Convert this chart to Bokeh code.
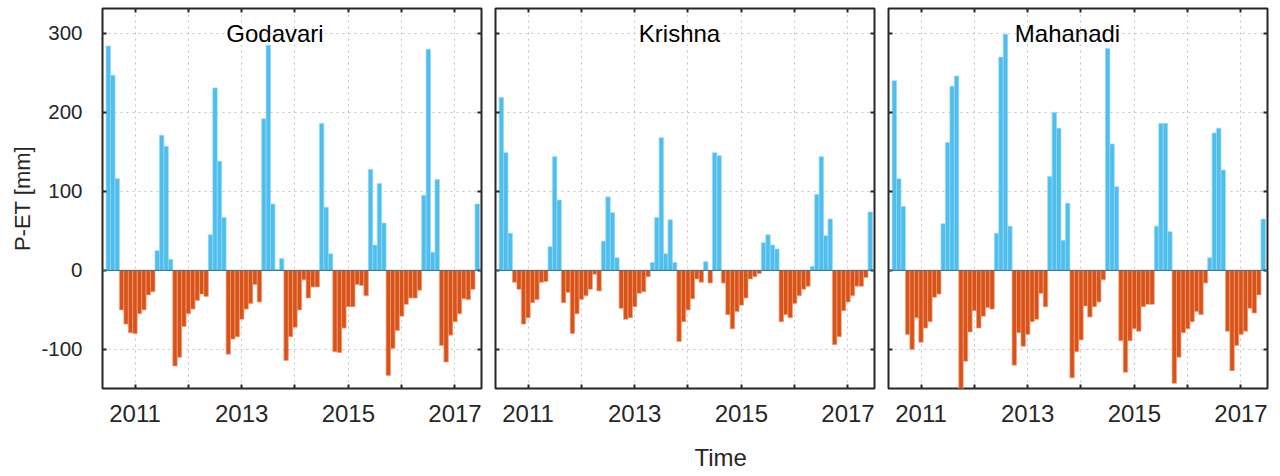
import numpy as np
import pandas as pd
from bokeh.plotting import figure
from bokeh.layouts import row
from bokeh.models import ColumnDataSource, FixedTicker, LinearAxis, Range1d, Label, Span, Title
from bokeh.embed import file_html
from bokeh.resources import INLINE

# ---------------- data ----------------
months = pd.date_range("2010-07-01", "2017-06-01", freq="MS")
basins = ["Godavari", "Krishna", "Mahanadi"]

godavari = [284, 247, 116, -50, -68, -79, -80, -55, -50, -31, -27, 25,
            171, 157, 14, -121, -110, -71, -55, -49, -38, -30, -33, 45,
            231, 138, 67, -106, -87, -84, -62, -49, -42, -18, -40, 192,
            285, 84, 1, 15, -114, -84, -72, -50, -12, -35, -21, -21,
            186, 80, 21, -103, -104, -73, -46, -46, -18, -19, -32, 128,
            32, 110, 60, -133, -99, -76, -58, -43, -35, -35, -25, 95,
            280, 23, 115, -95, -116, -82, -65, -55, -36, -37, -24, 84]

krishna = [219, 149, 47, -15, -24, -68, -60, -41, -37, -15, -14, 30,
           144, 89, -41, -28, -80, -55, -37, -32, -24, -5, -26, 37,
           93, 73, 16, -48, -62, -60, -46, -29, -27, -8, 10, 67,
           168, 21, 64, 10, -90, -65, -50, -36, -11, -15, 11, -16,
           149, 145, -16, -56, -74, -52, -44, -35, -11, -8, -4, 35,
           45, 32, 27, -65, -56, -60, -42, -32, -24, -20, 5, 96,
           144, 44, 65, -94, -84, -51, -40, -32, -20, -20, -9, 74]

mahanadi = [240, 116, 81, -81, -100, -60, -91, -73, -65, -34, -30, 59,
            162, 233, 246, -152, -115, -78, -51, -73, -58, -47, -49, 47,
            270, 299, 56, -120, -79, -96, -81, -65, -62, -29, -46, 119,
            200, 180, 38, 85, -136, -103, -88, -45, -59, -46, -40, -12,
            281, 160, 106, -89, -129, -89, -74, -77, -46, -43, -43, 56,
            186, 186, 49, -143, -110, -79, -74, -65, -52, -56, -16, 16,
            174, 180, 127, -77, -127, -95, -81, -77, -48, -54, -31, 65]

year_ticks = [2011, 2013, 2015, 2017]
minor_year_ticks = [2012, 2014, 2016]
y_ticks = [-100, 0, 100, 200, 300]
y_tick_labels = {-100: "-100", 0: "0", 100: "100", 200: "200", 300: "300"}

# ---------------- style ----------------
BLUE, BLUE_EDGE = "#4DBEEE", "#9ad9f5"
ORANGE, ORANGE_EDGE = "#D95319", "#eca07e"
DARK = "#262626"
FONT = "Liberation Sans"
GRID = "#c4c4c4"

x_month = np.array(months.year + (months.month - 1) / 12.0, dtype=float)

layout_cfg = [  # min_border_left, min_border_right, title x (frame px)
    (102, 7, 172.5),
    (7, 7, 184),
    (7, 13, 179),
]


def style_axis(ax, show_labels, size="24px", standoff=13):
    ax.axis_line_color = None
    ax.major_tick_in = 4
    ax.major_tick_out = 0
    ax.minor_tick_in = 4
    ax.minor_tick_out = 0
    ax.major_tick_line_color = DARK
    ax.minor_tick_line_color = DARK
    ax.major_tick_line_width = 2
    ax.minor_tick_line_width = 2
    if show_labels:
        ax.major_label_text_font = FONT
        ax.major_label_text_font_size = size
        ax.major_label_text_color = DARK
        ax.major_label_standoff = standoff
    else:
        ax.major_label_text_color = None
        ax.major_label_text_font_size = "1px"
        ax.major_label_standoff = 0


panels = []
for k, (name, vals) in enumerate(zip(basins, [godavari, krishna, mahanadi])):
    bl, br, tx = layout_cfg[k]
    p = figure(frame_width=379, frame_height=380,
               x_range=Range1d(2010.3906, 2017.497),
               y_range=Range1d(-149.5, 331.5),
               output_backend="svg", toolbar_location=None,
               min_border_left=bl, min_border_right=br,
               min_border_top=8, min_border_bottom=88,
               background_fill_color="white", border_fill_color="white")
    p.outline_line_color = DARK
    p.outline_line_width = 2

    xt = FixedTicker(ticks=year_ticks, minor_ticks=minor_year_ticks)
    yt = FixedTicker(ticks=y_ticks, minor_ticks=[])
    p.xaxis.ticker = xt
    p.yaxis.ticker = yt
    style_axis(p.xaxis[0], True, "24px", 16)
    style_axis(p.yaxis[0], k == 0, "20.5px", 20)
    p.yaxis[0].major_label_overrides = y_tick_labels

    top_ax = LinearAxis(ticker=FixedTicker(ticks=year_ticks, minor_ticks=minor_year_ticks))
    right_ax = LinearAxis(ticker=FixedTicker(ticks=y_ticks, minor_ticks=[]))
    style_axis(top_ax, False)
    style_axis(right_ax, False)
    p.add_layout(top_ax, "above")
    p.add_layout(right_ax, "right")

    p.xgrid.ticker = FixedTicker(ticks=year_ticks, minor_ticks=minor_year_ticks)
    p.ygrid.ticker = FixedTicker(ticks=y_ticks, minor_ticks=[])
    for g in (p.xgrid, p.ygrid):
        g.grid_line_color = GRID
        g.grid_line_dash = "2 4"
        g.grid_line_width = 1
    p.xgrid.minor_grid_line_color = GRID
    p.xgrid.minor_grid_line_dash = "2 4"
    p.xgrid.minor_grid_line_width = 1

    vals_arr = np.array(vals, dtype=float)
    src = ColumnDataSource(dict(
        x=x_month, top=vals_arr,
        fill=[BLUE if v >= 0 else ORANGE for v in vals_arr],
        edge=[BLUE_EDGE if v >= 0 else ORANGE_EDGE for v in vals_arr],
    ))
    p.vbar(x="x", top="top", bottom=0, width=1 / 12, source=src,
           fill_color="fill", line_color="edge", line_width=0.7)

    p.add_layout(Span(location=0, dimension="width", line_color="#2f6f8f", line_width=1))

    p.add_layout(Label(x=tx, y=355, x_units="screen", y_units="screen", text=name,
                       text_align="center", text_baseline="alphabetic",
                       text_font=FONT, text_font_size="24px", text_color="black"))
    panels.append(p)

# axis titles (as side titles so they sit outside the frames)
panels[0].add_layout(Title(text="P-ET [mm]", align="center",
                           text_font=FONT, text_font_size="22px",
                           text_font_style="normal", text_color=DARK,
                           standoff=8), "left")
panels[1].add_layout(Title(text="Time", align="left", offset=199,
                           text_font=FONT, text_font_size="24px",
                           text_font_style="normal", text_color=DARK,
                           standoff=34), "below")

layout = row(*panels, spacing=0)
open("out.html", "w").write(file_html(layout, INLINE))
